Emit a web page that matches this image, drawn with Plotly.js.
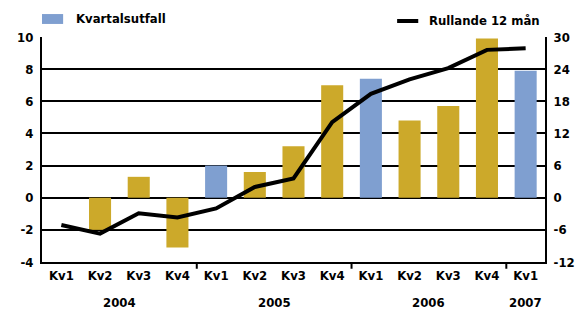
<!DOCTYPE html>
<html>
<head>
<meta charset="utf-8">
<script src="https://cdn.plot.ly/plotly-3.0.1.min.js"></script>
<style>html,body{margin:0;padding:0;background:#fff;}#chart{width:584px;height:309px;}</style>
</head>
<body>
<div id="chart"></div>
<script>
const quarters = ["Kv1","Kv2","Kv3","Kv4","Kv1","Kv2","Kv3","Kv4","Kv1","Kv2","Kv3","Kv4","Kv1"];
const years = ["2004","2005","2006","2007"];
const yearCenters = [1.5, 5.5, 9.5, 12];
const yearDividers = [3.5, 7.5, 11.5];
const leftTicks = [-4, -2, 0, 2, 4, 6, 8, 10];
const rightTicks = [-12, -6, 0, 6, 12, 18, 24, 30];
const kvartalsutfall = [null, -2.0, 1.3, -3.1, 2.0, 1.6, 3.2, 7.0, 7.4, 4.8, 5.7, 9.9, 7.9];
const rullande = [-5.1, -6.7, -2.9, -3.7, -2.0, 2.0, 3.6, 14.1, 19.4, 22.1, 24.2, 27.6, 27.9];
const seriesNames = ["Kvartalsutfall", "Rullande 12 mån"];
const blue = "#7f9fd0", gold = "#cca92a";
const idx = quarters.map((q, i) => i);
const barColors = quarters.map(q => q === "Kv1" ? blue : gold);
const bold = v => "<b>" + v + "</b>";

const font = {family: "DejaVu Sans Condensed, DejaVu Sans, sans-serif", size: 13, color: "#000"};

const traces = [
  {type: "bar", x: idx, y: kvartalsutfall, name: seriesNames[0],
   marker: {color: barColors}, width: 0.57, yaxis: "y", showlegend: false},
  {type: "scatter", mode: "lines", x: idx, y: rullande, name: seriesNames[1],
   line: {color: "#000", width: 4}, yaxis: "y2", showlegend: false}
];

const shapes = yearDividers.map(d => ({type: "line", xref: "x", yref: "paper",
  x0: d, x1: d, y0: 0, y1: -0.03, line: {color: "#000", width: 2}}));
shapes.push({type: "rect", xref: "paper", yref: "paper", x0: 0, x1: 0.042, y0: 1.058, y1: 1.102,
  fillcolor: blue, line: {width: 0}});
shapes.push({type: "line", xref: "paper", yref: "paper", x0: 0.706, x1: 0.748, y0: 1.071, y1: 1.071,
  line: {color: "#000", width: 4}});

const annotations = years.map((yr, i) => ({xref: "x", yref: "paper", x: yearCenters[i], y: -0.178,
  text: bold(yr), showarrow: false, yanchor: "middle", font: font}));
annotations.push({xref: "paper", yref: "paper", x: 0.064, y: 1.08, xanchor: "left", yanchor: "middle",
  text: bold(seriesNames[0]), showarrow: false, font: font});
annotations.push({xref: "paper", yref: "paper", x: 0.765, y: 1.075, xanchor: "left", yanchor: "middle",
  text: bold(seriesNames[1]), showarrow: false, font: font});

const layout = {
  width: 584, height: 309,
  margin: {l: 42, r: 39, t: 37, b: 47},
  paper_bgcolor: "#fff", plot_bgcolor: "#fff",
  font: font,
  showlegend: false,
  xaxis: {range: [-0.5, 12.5], tickvals: idx, ticktext: quarters.map(bold),
    showgrid: false, zeroline: false, showline: true, linecolor: "#000", linewidth: 2,
    ticks: "", tickfont: font},
  yaxis: {range: [-4, 10], tickvals: leftTicks, ticktext: leftTicks.map(v => bold(String(v))),
    showgrid: true, gridcolor: "#000", gridwidth: 2,
    zeroline: false, showline: true, linecolor: "#000", linewidth: 2, ticks: "",
    tickfont: font, ticklabelstandoff: 4},
  yaxis2: {range: [-12, 30], tickvals: rightTicks, ticktext: rightTicks.map(v => bold(String(v))),
    overlaying: "y", side: "right", showgrid: false,
    zeroline: false, showline: true, linecolor: "#000", linewidth: 2, ticks: "",
    tickfont: font, ticklabelstandoff: 4},
  shapes: shapes,
  annotations: annotations
};

Plotly.newPlot("chart", traces, layout, {displayModeBar: false, staticPlot: true});
</script>
</body>
</html>
